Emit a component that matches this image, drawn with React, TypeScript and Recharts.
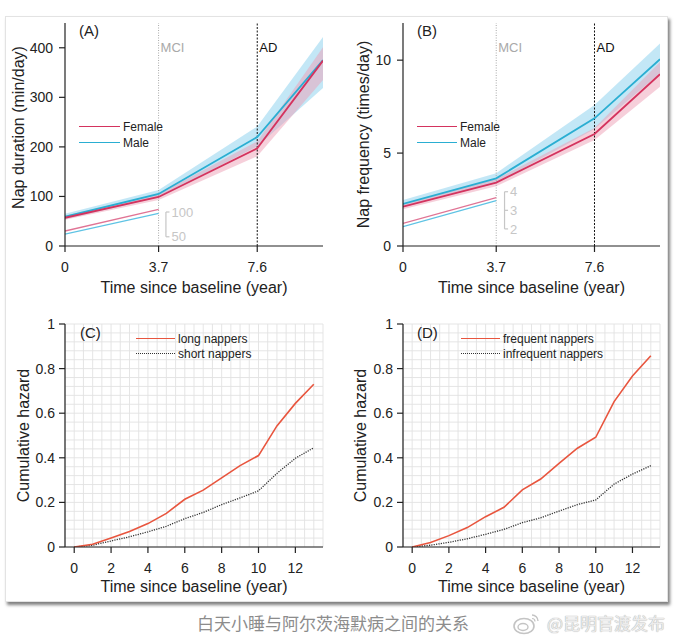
import React from 'react';
import { ComposedChart, LineChart, Line, Area, XAxis, YAxis, ReferenceLine, CartesianGrid } from 'recharts';

const FONT = '"Liberation Sans", Arial, Helvetica, sans-serif';
const CJK = '"Noto Sans CJK SC", "Noto Sans", sans-serif';
const INK = '#222';
const FEMALE = '#d4335e';
const MALE = '#2aaed2';
const FEMALE_BAND = '#eea0b5';
const MALE_BAND = '#a3daf1';
const INSET_GREY = '#c6c6c6';
const HAZARD_RED = '#e8553e';

// ---------- Panels A & B: nap trajectories ----------
const napTime = [0, 3.7, 7.6, 10.2];
const napTimeTicks = [0, 3.7, 7.6];

const femaleDuration = [57, 99, 197, 374];
const femaleDurationLow = [53, 93, 181, 335];
const femaleDurationHigh = [61, 105, 211, 401];
const maleDuration = [59, 105, 220, 375];
const maleDurationLow = [54, 98, 201, 319];
const maleDurationHigh = [65, 113, 241, 422];
const durationTicks = [0, 100, 200, 300, 400];

const slopeTime = [0, 3.7];
const femaleDurationSlope = [61.6, 105.3];
const maleDurationSlope = [55.5, 97.3];
const durationSlopeTicks = [100, 50];

const femaleFrequency = [2.12, 3.41, 6.03, 9.24];
const femaleFrequencyLow = [1.98, 3.22, 5.7, 8.57];
const femaleFrequencyHigh = [2.26, 3.6, 6.35, 9.9];
const maleFrequency = [2.26, 3.64, 6.87, 10.05];
const maleFrequencyLow = [2.08, 3.38, 6.3, 9.3];
const maleFrequencyHigh = [2.48, 3.92, 7.59, 10.9];
const frequencyTicks = [0, 5, 10];

const femaleFrequencySlope = [2.3, 3.68];
const maleFrequencySlope = [2.12, 3.52];
const frequencySlopeTicks = [4, 3, 2];

// ---------- Panels C & D: cumulative hazard ----------
const hazardYears = [0, 1, 2, 3, 4, 5, 6, 7, 8, 9, 10, 11, 12, 13];
const longNappers = [0, 0.012, 0.04, 0.07, 0.105, 0.151, 0.214, 0.255, 0.31, 0.365, 0.41, 0.543, 0.644, 0.73];
const shortNappers = [0, 0.008, 0.027, 0.046, 0.068, 0.093, 0.127, 0.155, 0.19, 0.22, 0.252, 0.33, 0.398, 0.445];
const frequentNappers = [0, 0.02, 0.051, 0.087, 0.136, 0.178, 0.256, 0.305, 0.375, 0.443, 0.492, 0.652, 0.767, 0.858];
const infrequentNappers = [0, 0.008, 0.021, 0.037, 0.057, 0.079, 0.109, 0.131, 0.161, 0.19, 0.211, 0.282, 0.327, 0.365];
const yearTicks = [0, 2, 4, 6, 8, 10, 12];
const hazardTicks = [0, 0.2, 0.4, 0.6, 0.8, 1];
// minor grid positions (grid only, not data)
const gridYears = Array.from({ length: 29 }, (_, i) => -0.5 + i * 0.5);
const gridHazard = Array.from({ length: 26 }, (_, i) => Math.round(i * 4) / 100);

type Traj = {
  f: number[]; fl: number[]; fh: number[];
  m: number[]; ml: number[]; mh: number[];
  sf: number[]; sm: number[]; shift: number;
};

function buildTrajectory(d: Traj) {
  return napTime.map((t, i) => {
    const j = slopeTime.indexOf(t);
    return {
      t,
      female: d.f[i],
      male: d.m[i],
      femaleBand: [d.fl[i], d.fh[i]],
      maleBand: [d.ml[i], d.mh[i]],
      femaleSlope: j >= 0 ? d.sf[j] + d.shift : null,
      maleSlope: j >= 0 ? d.sm[j] + d.shift : null,
    };
  });
}

const durationData = buildTrajectory({
  f: femaleDuration, fl: femaleDurationLow, fh: femaleDurationHigh,
  m: maleDuration, ml: maleDurationLow, mh: maleDurationHigh,
  sf: femaleDurationSlope, sm: maleDurationSlope, shift: -31.4,
});
const frequencyData = buildTrajectory({
  f: femaleFrequency, fl: femaleFrequencyLow, fh: femaleFrequencyHigh,
  m: maleFrequency, ml: maleFrequencyLow, mh: maleFrequencyHigh,
  sf: femaleFrequencySlope, sm: maleFrequencySlope, shift: -1.08,
});

const hazardLength = hazardYears.map((t, i) => ({ t, a: longNappers[i], b: shortNappers[i] }));
const hazardFrequency = hazardYears.map((t, i) => ({ t, a: frequentNappers[i], b: infrequentNappers[i] }));

const axisStroke = { stroke: INK, strokeWidth: 1.2 };
const tickStyle = { fill: INK, fontSize: 14, fontFamily: FONT };

function TrajectoryPanel(props: {
  data: any[]; yDomain: [number, number]; yTicks: number[]; yLabel: string;
  yWidth: number; yLabelOffset: number; yLabelDy: number; marginRight: number;
  slopeTicks: number[]; shift: number; bracketX: number;
}) {
  const { data, yDomain, yTicks, yLabel, yWidth, yLabelOffset, yLabelDy, marginRight, slopeTicks, shift, bracketX } = props;
  const top = Math.max(...slopeTicks) + shift;
  const bottom = Math.min(...slopeTicks) + shift;
  return (
    <ComposedChart width={335} height={300} data={data} margin={{ top: 23, right: marginRight, left: 0, bottom: 0 }}>
      <XAxis
        dataKey="t" type="number" domain={[0, 10.2]} allowDataOverflow ticks={napTimeTicks} interval={0}
        height={54} tickSize={6} tickMargin={10} axisLine={axisStroke} tickLine={axisStroke} tick={tickStyle}
        label={{ value: 'Time since baseline (year)', position: 'insideBottom', offset: 7, fill: INK, fontSize: 16, textAnchor: 'middle', style: { textAnchor: 'middle', fontSize: 16, fill: INK } }}
      />
      <YAxis
        type="number" domain={yDomain} allowDataOverflow ticks={yTicks} interval={0} width={yWidth}
        tickSize={6} tickMargin={6} axisLine={axisStroke} tickLine={axisStroke} tick={tickStyle}
        label={{ value: yLabel, angle: -90, position: 'insideLeft', offset: yLabelOffset, dy: yLabelDy, fill: INK, fontSize: 16, textAnchor: 'middle', style: { textAnchor: 'middle', fontSize: 16, fill: INK } }}
      />
      <Area dataKey="maleBand" type="linear" stroke="none" fill={MALE_BAND} fillOpacity={0.65} isAnimationActive={false} activeDot={false} />
      <Area dataKey="femaleBand" type="linear" stroke="none" fill={FEMALE_BAND} fillOpacity={0.5} isAnimationActive={false} activeDot={false} />
      <ReferenceLine x={3.7} stroke="#a9a9a9" strokeDasharray="1 1.5"
        label={{ value: 'MCI', position: 'insideTopLeft', offset: 2, dy: 18, fill: '#a9a9a9', fontSize: 13 }} />
      <ReferenceLine x={7.6} stroke="#111" strokeDasharray="2 1.5"
        label={{ value: 'AD', position: 'insideTopLeft', offset: 2, dy: 18, fill: '#111', fontSize: 13 }} />
      <ReferenceLine segment={[{ x: bracketX, y: top }, { x: bracketX, y: bottom }]} stroke={INSET_GREY} strokeWidth={1.2} />
      {slopeTicks.map((v) => (
        <ReferenceLine
          key={v}
          segment={[{ x: bracketX, y: v + shift }, { x: bracketX + 0.14, y: v + shift }]}
          stroke={INSET_GREY} strokeWidth={1.2}
          label={{ value: String(v), position: 'right', offset: 2, fill: INSET_GREY, fontSize: 13 }}
        />
      ))}
      <Line dataKey="femaleSlope" type="linear" stroke="#e07495" strokeWidth={1.3} dot={false} isAnimationActive={false} />
      <Line dataKey="maleSlope" type="linear" stroke="#5ec3e4" strokeWidth={1.3} dot={false} isAnimationActive={false} />
      <Line dataKey="male" type="linear" stroke={MALE} strokeWidth={1.8} dot={false} isAnimationActive={false} />
      <Line dataKey="female" type="linear" stroke={FEMALE} strokeWidth={1.8} dot={false} isAnimationActive={false} />
    </ComposedChart>
  );
}

function HazardPanel(props: { data: any[]; yWidth: number; yLabelOffset: number; marginRight: number }) {
  const { data, yWidth, yLabelOffset, marginRight } = props;
  return (
    <LineChart width={335} height={300} data={data} margin={{ top: 24, right: marginRight, left: 0, bottom: 0 }}>
      <CartesianGrid stroke="#e2e2e2" strokeWidth={0.9} verticalValues={gridYears} horizontalValues={gridHazard} />
      <XAxis
        dataKey="t" type="number" domain={[-0.5, 13.5]} allowDataOverflow ticks={yearTicks} interval={0}
        height={53} tickSize={6} tickMargin={10} axisLine={axisStroke} tickLine={axisStroke} tick={tickStyle}
        label={{ value: 'Time since baseline (year)', position: 'insideBottom', offset: 8, fill: INK, fontSize: 16, textAnchor: 'middle', style: { textAnchor: 'middle', fontSize: 16, fill: INK } }}
      />
      <YAxis
        type="number" domain={[0, 1]} allowDataOverflow ticks={hazardTicks} interval={0} width={yWidth}
        tickSize={6} tickMargin={4} axisLine={axisStroke} tickLine={axisStroke} tick={tickStyle}
        label={{ value: 'Cumulative hazard', angle: -90, position: 'insideLeft', offset: yLabelOffset, fill: INK, fontSize: 16, textAnchor: 'middle', style: { textAnchor: 'middle', fontSize: 16, fill: INK } }}
      />
      <Line dataKey="b" type="linear" stroke="#333" strokeWidth={1.3} strokeDasharray="1.2 1.2" dot={false} isAnimationActive={false} />
      <Line dataKey="a" type="linear" stroke={HAZARD_RED} strokeWidth={1.6} dot={false} isAnimationActive={false} />
    </LineChart>
  );
}

function LegendItem(props: { x1: number; x2: number; y: number; color: string; dotted?: boolean; text: string }) {
  const { x1, x2, y, color, dotted, text } = props;
  return (
    <>
      <div style={{ position: 'absolute', left: x1, top: y - 1, width: x2 - x1, height: 0, borderTop: `${dotted ? 1.4 : 1.6}px ${dotted ? 'dotted' : 'solid'} ${color}` }} />
      <div style={{ position: 'absolute', left: x2 + 3, top: y - 8, fontSize: 12, lineHeight: '16px', color: INK, whiteSpace: 'nowrap' }}>{text}</div>
    </>
  );
}

function PanelLetter(props: { x: number; y: number; text: string }) {
  return (
    <div style={{ position: 'absolute', left: props.x, top: props.y - 9, fontSize: 15, lineHeight: '18px', color: INK }}>{props.text}</div>
  );
}

export default function App() {
  return (
    <div style={{ position: 'absolute', left: 0, top: 0, width: 675, height: 640, background: '#fff', fontFamily: FONT, overflow: 'hidden' }}>
      <div style={{ position: 'absolute', left: 5, top: 16, width: 661, height: 584, background: '#fff', border: '1px solid #e3e3e3', boxShadow: '2px 3px 3px rgba(0,0,0,0.5)' }} />

      <div style={{ position: 'absolute', left: 0, top: 0 }}>
        <TrajectoryPanel data={durationData} yDomain={[0, 450]} yTicks={durationTicks} yLabel="Nap duration (min/day)"
          yWidth={65} yLabelOffset={18} yLabelDy={-7} marginRight={12} slopeTicks={durationSlopeTicks} shift={-31.4} bracketX={3.99} />
      </div>
      <div style={{ position: 'absolute', left: 335, top: 0 }}>
        <TrajectoryPanel data={frequencyData} yDomain={[0, 12]} yTicks={frequencyTicks} yLabel="Nap frequency (times/day)"
          yWidth={68} yLabelOffset={28} yLabelDy={0} marginRight={10} slopeTicks={frequencySlopeTicks} shift={-1.08} bracketX={4.03} />
      </div>
      <div style={{ position: 'absolute', left: 0, top: 300 }}>
        <HazardPanel data={hazardLength} yWidth={65} yLabelOffset={23} marginRight={12} />
      </div>
      <div style={{ position: 'absolute', left: 335, top: 300 }}>
        <HazardPanel data={hazardFrequency} yWidth={68} yLabelOffset={25} marginRight={10} />
      </div>

      <PanelLetter x={79} y={31} text="(A)" />
      <PanelLetter x={417} y={31} text="(B)" />
      <PanelLetter x={80} y={333} text="(C)" />
      <PanelLetter x={417} y={333} text="(D)" />

      <LegendItem x1={79} x2={120} y={127} color={FEMALE} text="Female" />
      <LegendItem x1={79} x2={120} y={143} color={MALE} text="Male" />
      <LegendItem x1={417} x2={457} y={127} color={FEMALE} text="Female" />
      <LegendItem x1={417} x2={457} y={143} color={MALE} text="Male" />
      <LegendItem x1={136} x2={175} y={339} color={HAZARD_RED} text="long nappers" />
      <LegendItem x1={136} x2={175} y={354} color="#333" dotted text="short nappers" />
      <LegendItem x1={461} x2={500} y={339} color={HAZARD_RED} text="frequent nappers" />
      <LegendItem x1={461} x2={500} y={354} color="#333" dotted text="infrequent nappers" />

      <div style={{ position: 'absolute', left: 197, top: 611, fontSize: 17, lineHeight: '24px', color: '#8c8c8c', fontFamily: CJK, whiteSpace: 'nowrap' }}>
        白天小睡与阿尔茨海默病之间的关系
      </div>
      <svg style={{ position: 'absolute', left: 512, top: 611 }} width={30} height={26} viewBox="0 0 30 26">
        <ellipse cx={12} cy={15} rx={10} ry={7.5} fill="none" stroke="#c4c4c4" strokeWidth={1.6} />
        <ellipse cx={11} cy={16} rx={5} ry={3.5} fill="none" stroke="#c4c4c4" strokeWidth={1.4} />
        <path d="M20 4 A6 6 0 0 1 26 10" fill="none" stroke="#c4c4c4" strokeWidth={1.4} />
        <path d="M20 7.5 A3 3 0 0 1 23 10.5" fill="none" stroke="#c4c4c4" strokeWidth={1.2} />
      </svg>
      <div style={{ position: 'absolute', left: 547, top: 611, fontSize: 17, lineHeight: '24px', color: '#ececec', fontFamily: CJK, whiteSpace: 'nowrap', textShadow: '0 0 1px #b4b4b4, 0 0 1px #b4b4b4' }}>
        @昆明官渡发布
      </div>
    </div>
  );
}
